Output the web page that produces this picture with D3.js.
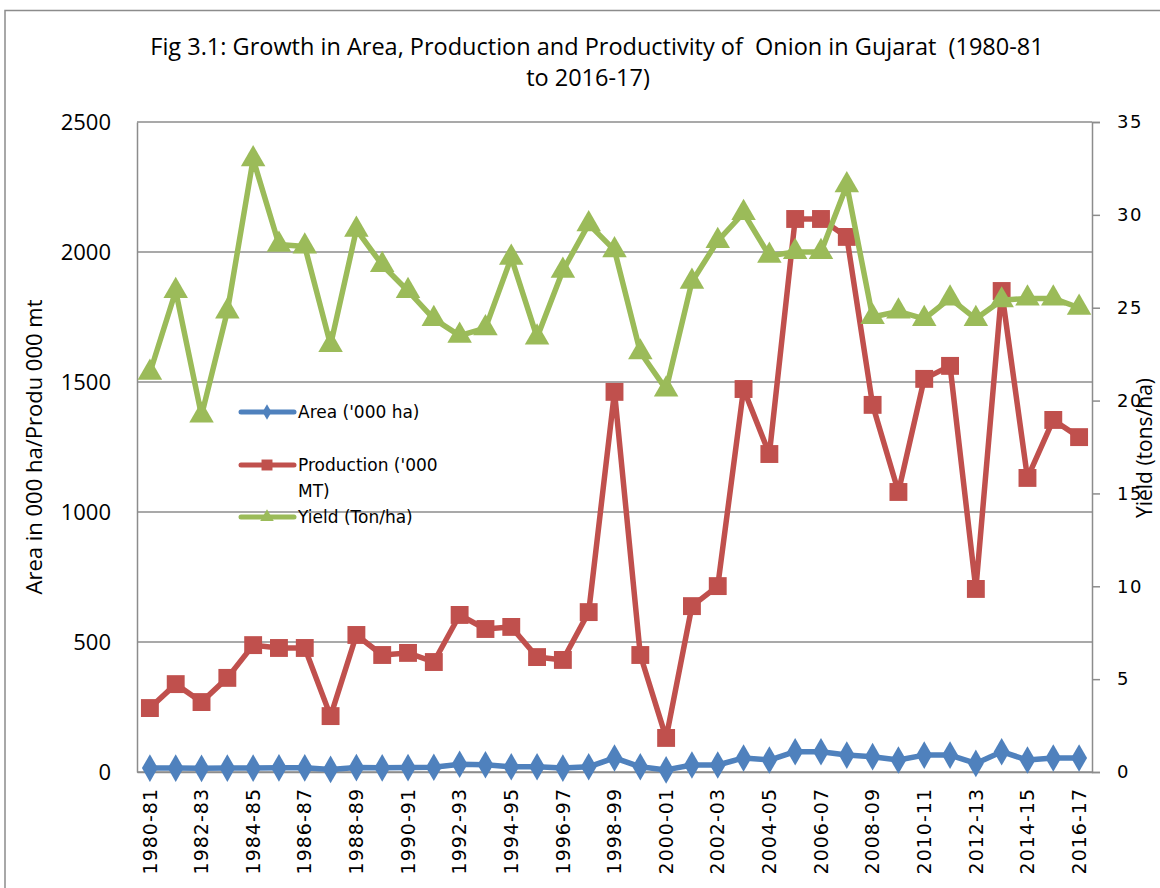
<!DOCTYPE html>
<html>
<head>
<meta charset="utf-8">
<script src="https://cdn.jsdelivr.net/npm/d3@7"></script>
<style>
  body { margin: 0; background: #fff; }
  svg { display: block; }
  text { white-space: pre; }
</style>
</head>
<body>
<div id="chart"></div>
<script>
// years shown on the x axis
const years = [
  '1980-81','1981-82','1982-83','1983-84','1984-85','1985-86','1986-87','1987-88','1988-89','1989-90',
  '1990-91','1991-92','1992-93','1993-94','1994-95','1995-96','1996-97','1997-98','1998-99','1999-00',
  '2000-01','2001-02','2002-03','2003-04','2004-05','2005-06','2006-07','2007-08','2008-09','2009-10',
  '2010-11','2011-12','2012-13','2013-14','2014-15','2015-16','2016-17'
];

const area = [15, 15, 14, 15, 15, 16, 16, 10, 17, 16, 17, 18, 30, 28, 20, 20, 15, 20, 54, 20,
  8, 27, 27, 54, 46, 78, 78, 65, 59, 46, 65, 65, 33, 78, 46, 54, 54];

const production = [246, 338, 269, 362, 488, 477, 477, 215, 527, 450, 458, 423, 604, 550, 558, 442,
  431, 615, 1462, 450, 131, 638, 715, 1473, 1223, 2127, 2127, 2058, 1412, 1077, 1512, 1562, 704,
  1850, 1131, 1354, 1288];

const yieldT = [21.5, 25.9, 19.2, 24.8, 33.0, 28.4, 28.3, 23.0, 29.2, 27.3, 25.9, 24.4, 23.5, 23.9,
  27.7, 23.4, 27.0, 29.5, 28.1, 22.6, 20.6, 26.4, 28.6, 30.1, 27.8, 28.0, 28.0, 31.6, 24.5, 24.8,
  24.4, 25.5, 24.4, 25.4, 25.5, 25.5, 25.0];

const leftTicks = [0, 500, 1000, 1500, 2000, 2500];
const rightTicks = [0, 5, 10, 15, 20, 25, 30, 35];

const width = 1160, height = 888;
const margin = { top: 122, right: 68, bottom: 116, left: 137 };
const w = width - margin.left - margin.right;
const h = height - margin.top - margin.bottom;

const svg = d3.select('#chart').append('svg')
  .attr('width', width)
  .attr('height', height);

// outer chart frame
svg.append('rect')
  .attr('x', 5).attr('y', 10.5)
  .attr('width', width).attr('height', height)
  .attr('fill', 'none').attr('stroke', '#8c8c8c').attr('stroke-width', 1.5);

svg.append('text')
  .attr('x', 597).attr('y', 55)
  .attr('text-anchor', 'middle')
  .style('font-family', 'Open Sans, sans-serif')
  .style('font-size', '23.5px')
  .text('Fig 3.1: Growth in Area, Production and Productivity of  Onion in Gujarat  (1980-81');
svg.append('text')
  .attr('x', 588).attr('y', 86)
  .attr('text-anchor', 'middle')
  .style('font-family', 'Open Sans, sans-serif')
  .style('font-size', '23.5px')
  .text('to 2016-17)');

const g = svg.append('g')
  .attr('transform', 'translate(' + margin.left + ',' + margin.top + ')');

const x = d3.scaleBand().domain(years).range([0, w]).padding(0);
const yL = d3.scaleLinear().domain([0, 2500]).range([h, 0]);
const yR = d3.scaleLinear().domain([0, 35]).range([h, 0]);
const cx = d => x(d) + x.bandwidth() / 2;

// gridlines
g.selectAll('.grid')
  .data(leftTicks)
  .enter().append('line')
  .attr('x1', 0).attr('x2', w)
  .attr('y1', d => yL(d)).attr('y2', d => yL(d))
  .attr('stroke', '#8c8c8c').attr('stroke-width', 1.5);

// left axis
const leftAxis = g.append('g')
  .call(d3.axisLeft(yL).tickValues(leftTicks).tickFormat(d3.format('d')).tickSize(0).tickPadding(26));
leftAxis.select('.domain').attr('stroke', '#8c8c8c').attr('stroke-width', 1.5);
leftAxis.selectAll('text')
  .style('font-family', 'Open Sans, sans-serif')
  .style('font-size', '22px').attr('fill', '#000');

// right axis
const rightAxis = g.append('g')
  .attr('transform', 'translate(' + w + ',0)')
  .call(d3.axisRight(yR).tickValues(rightTicks).tickSize(8).tickPadding(17));
rightAxis.select('.domain').attr('stroke', '#8c8c8c').attr('stroke-width', 1.5);
rightAxis.selectAll('.tick line').attr('stroke', '#8c8c8c').attr('stroke-width', 1.5);
rightAxis.selectAll('text')
  .style('font-family', 'DejaVu Sans, sans-serif')
  .style('font-size', '18px').style('letter-spacing', '1.5px').attr('fill', '#000');

// bottom axis
const xAxis = g.append('g')
  .attr('transform', 'translate(0,' + h + ')')
  .call(d3.axisBottom(x).tickValues(years.filter((d, i) => i % 2 === 0)).tickSize(0).tickPadding(10));
xAxis.select('.domain').attr('stroke', '#8c8c8c').attr('stroke-width', 1.5);
xAxis.selectAll('text')
  .style('font-family', 'DejaVu Sans, sans-serif')
  .style('font-size', '19px').style('letter-spacing', '1px').attr('fill', '#000')
  .style('text-anchor', 'end')
  .attr('transform', 'rotate(-90)')
  .attr('x', -16).attr('y', 0).attr('dy', '0.35em');

// axis titles
svg.append('text')
  .attr('transform', 'translate(42,' + (margin.top + h / 2) + ') rotate(-90)')
  .attr('text-anchor', 'middle')
  .style('font-family', 'Open Sans, sans-serif')
  .style('font-size', '22px')
  .text('Area in 000 ha/Produ 000 mt');
svg.append('text')
  .attr('transform', 'translate(1152,448) rotate(-90)')
  .attr('text-anchor', 'middle')
  .style('font-family', 'Open Sans, sans-serif')
  .style('font-size', '21px')
  .text('Yield (tons/ha)');

const colors = { area: '#4f81bd', prod: '#c0504d', yield: '#9bbb59' };

function drawSeries(values, scale, color, symbol, size) {
  const line = d3.line()
    .x((d, i) => cx(years[i]))
    .y(d => scale(d));
  g.append('path')
    .datum(values)
    .attr('d', line)
    .attr('fill', 'none')
    .attr('stroke', color)
    .attr('stroke-width', 5.5)
    .attr('stroke-linejoin', 'round');
  g.selectAll(null)
    .data(values)
    .enter().append('path')
    .attr('d', d3.symbol().type(symbol).size(size))
    .attr('transform', (d, i) => 'translate(' + cx(years[i]) + ',' + scale(d) + ')')
    .attr('fill', color);
}

drawSeries(area, yL, colors.area, d3.symbolDiamond, 220);
drawSeries(production, yL, colors.prod, d3.symbolSquare, 320);
drawSeries(yieldT, yR, colors.yield, d3.symbolTriangle, 260);

// legend
const legendItems = [
  { label: ["Area ('000 ha)"], color: colors.area, symbol: d3.symbolDiamond, size: 70, y: 412 },
  { label: ["Production ('000", 'MT)'], color: colors.prod, symbol: d3.symbolSquare, size: 120, y: 465 },
  { label: ['Yield (Ton/ha)'], color: colors.yield, symbol: d3.symbolTriangle, size: 80, y: 517 }
];
const legend = svg.append('g');
legendItems.forEach(item => {
  legend.append('line')
    .attr('x1', 241).attr('x2', 294)
    .attr('y1', item.y).attr('y2', item.y)
    .attr('stroke', item.color).attr('stroke-width', 5).attr('stroke-linecap', 'round');
  legend.append('path')
    .attr('d', d3.symbol().type(item.symbol).size(item.size))
    .attr('transform', 'translate(267,' + item.y + ')')
    .attr('fill', item.color);
  item.label.forEach((t, k) => {
    legend.append('text')
      .attr('x', 298).attr('y', item.y + k * 26)
      .attr('dy', '0.35em')
      .style('font-family', 'DejaVu Sans, sans-serif')
      .style('font-size', '17px')
      .text(t);
  });
});
</script>
</body>
</html>
